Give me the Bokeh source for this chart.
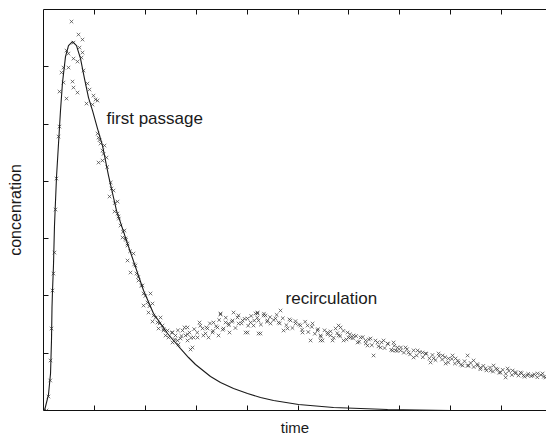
from math import pi
from bokeh.plotting import figure
from bokeh.models import Range1d, LinearAxis, FixedTicker, Label, CustomJSTickFormatter, ColumnDataSource
from bokeh.embed import file_html
from bokeh.resources import INLINE

# fitted first-passage curve (time, concentration)
fit_time = [0.0, 0.020, 0.098, 0.138, 0.157, 0.167, 0.177, 0.196, 0.216, 0.255, 0.295, 0.334,
            0.373, 0.432, 0.491, 0.570, 0.648, 0.727, 0.805, 0.884, 0.963, 1.061, 1.159, 1.277,
            1.434, 1.650, 1.965, 2.161, 2.436, 2.554, 2.692, 2.849, 2.986, 3.084, 3.281, 3.477,
            3.733, 4.008, 4.263, 4.519, 5.010, 5.697, 6.758, 8.0, 9.88]
fit_conc = [0.0, 0.0, 0.279, 0.646, 1.222, 1.798, 2.094, 2.531, 3.229, 4.066, 4.660, 5.236,
            5.724, 6.178, 6.370, 6.440, 6.370, 6.143, 5.794, 5.462, 5.236, 4.921, 4.625, 4.101,
            3.490, 2.914, 2.094, 1.693, 1.344, 1.222, 1.082, 0.925, 0.803, 0.733, 0.593, 0.489,
            0.384, 0.297, 0.227, 0.175, 0.105, 0.052, 0.017, 0.0, 0.0]

# measured samples (time, concentration)
meas_time = [0.059, 0.098, 0.132, 0.138, 0.157, 0.177, 0.196, 0.216, 0.236, 0.255, 0.295, 0.314,
             0.314, 0.354, 0.393, 0.393, 0.452, 0.452, 0.491, 0.491, 0.550, 0.570, 0.589, 0.589,
             0.589, 0.668, 0.668, 0.688, 0.707, 0.747, 0.766, 0.766, 0.786, 0.845, 0.864, 0.904,
             0.963, 0.982, 1.022, 1.061, 1.061, 1.081, 1.081, 1.120, 1.159, 1.159, 1.198, 1.238,
             1.297, 1.336, 1.375, 1.395, 1.454, 1.454, 1.473, 1.513, 1.552, 1.591, 1.611, 1.650,
             1.650, 1.650, 1.768, 1.807, 1.709, 1.827, 1.866, 1.945, 1.965, 2.102, 2.043, 1.965,
             2.141, 2.063, 2.161, 2.299, 2.141, 2.240, 2.338, 2.259, 2.358, 2.436, 2.397, 2.534,
             2.456, 2.593, 2.633, 2.534, 2.692, 2.731, 2.790, 2.652, 2.868, 2.829, 2.888, 2.947,
             3.026, 3.065, 3.124, 3.183, 3.222, 3.242, 3.320, 3.340, 3.418, 3.477, 3.438, 3.536,
             3.576, 3.635, 3.654, 3.733, 3.713, 3.811, 3.831, 3.910, 3.969, 4.008, 4.067, 4.126,
             4.204, 4.224, 4.224, 4.165, 4.322, 4.401, 4.263, 4.460, 4.558, 4.656, 4.617, 4.715,
             4.853, 4.951, 4.794, 5.049, 5.088, 5.187, 5.285, 5.246, 5.383, 5.442, 5.481, 5.580,
             5.639, 5.678, 5.737, 5.796, 5.835, 5.894, 5.972, 6.031, 6.090, 6.169, 6.228, 6.326,
             6.365, 6.424, 6.483, 6.562, 6.621, 6.680, 6.758, 6.857, 6.876, 6.955, 6.916, 7.014,
             7.112, 7.171, 7.269, 7.348, 7.446, 7.505, 7.603, 7.662, 7.760, 7.839, 7.898, 7.957,
             8.035, 8.094, 8.153, 8.232, 8.330, 8.350, 8.448, 8.527, 8.585, 8.684, 8.782, 8.841,
             8.919, 8.978, 9.077, 9.116, 9.214, 9.273, 9.371, 9.430, 9.509, 9.607, 9.705, 9.804,
             9.862, 3.477, 4.204, 4.361, 4.008, 2.829, 2.927, 5.442, 5.796, 5.992,
             1.10, 1.18, 1.25, 1.32, 1.40, 1.48, 1.56, 1.62, 1.70, 1.78, 1.86, 1.92, 2.00, 2.08,
             2.20, 2.28, 2.36]
meas_conc = [0.000, 0.244, 0.524, 0.873, 1.431, 2.094, 2.391, 2.757, 3.508, 4.049, 4.782, 4.956,
             5.567, 5.899, 5.724, 5.986, 5.445, 6.283, 6.230, 5.986, 6.789, 5.742, 6.422, 6.143,
             5.637, 6.091, 5.550, 6.562, 6.335, 6.161, 6.475, 6.248, 5.934, 5.358, 5.707, 5.602,
             5.340, 5.497, 5.428, 5.410, 4.834, 4.764, 4.328, 4.660, 4.538, 4.363, 4.625, 4.415,
             3.735, 3.874, 3.839, 3.473, 3.647, 3.438, 3.386, 3.229, 3.019, 3.141, 3.002, 2.914,
             2.880, 2.618, 2.740, 2.531, 2.408, 2.391, 2.269, 2.182, 2.042, 2.042, 1.885, 1.832,
             1.867, 1.710, 1.658, 1.623, 1.553, 1.536, 1.483, 1.431, 1.396, 1.396, 1.309, 1.361,
             1.274, 1.309, 1.222, 1.187, 1.257, 1.396, 1.309, 1.152, 1.361, 1.222, 1.065, 1.274,
             1.274, 1.536, 1.431, 1.344, 1.431, 1.274, 1.361, 1.536, 1.449, 1.675, 1.309, 1.431,
             1.536, 1.518, 1.361, 1.710, 1.571, 1.623, 1.518, 1.571, 1.361, 1.606, 1.536, 1.483,
             1.710, 1.571, 1.344, 1.693, 1.658, 1.571, 1.344, 1.518, 1.606, 1.745, 1.536, 1.396,
             1.571, 1.518, 1.431, 1.483, 1.361, 1.483, 1.518, 1.222, 1.396, 1.309, 1.222, 1.361,
             1.309, 1.222, 1.431, 1.309, 1.449, 1.222, 1.361, 1.274, 1.309, 1.187, 1.274, 1.222,
             1.134, 1.257, 0.960, 1.187, 1.099, 1.222, 1.169, 1.047, 1.187, 1.099, 1.047, 1.047,
             1.099, 1.012, 0.925, 1.047, 1.012, 0.995, 0.838, 0.908, 0.995, 0.960, 0.820, 0.908,
             0.960, 0.908, 0.838, 0.785, 0.960, 0.785, 0.873, 0.785, 0.750, 0.733, 0.698, 0.785,
             0.716, 0.663, 0.576, 0.733, 0.698, 0.646, 0.663, 0.611, 0.611, 0.611, 0.646, 0.646,
             0.576, 1.693, 1.693, 1.658, 1.361, 1.449, 1.099, 1.222, 1.483, 1.274,
             4.72, 4.48, 4.25, 3.98, 3.62, 3.35, 3.12, 2.98, 2.78, 2.55, 2.33, 2.18, 2.00, 1.82,
             1.62, 1.52, 1.42]

# further measured samples along the recirculation band (time, concentration)
recirc_time = [2.52, 2.58, 2.64, 2.71, 2.77, 2.83, 2.90, 2.96, 3.02, 3.08, 3.14, 3.20, 3.27, 3.33,
               3.39, 3.45, 3.52, 3.58, 3.64, 3.70, 3.77, 3.83, 3.89, 3.95, 4.02, 4.08, 4.14, 4.20,
               4.27, 4.33, 4.39, 4.45, 4.52, 4.58, 4.64, 4.70, 4.77, 4.83, 4.89, 4.95, 5.02, 5.08,
               5.14, 5.20, 5.27, 5.33, 5.39, 5.45, 5.52, 5.58, 5.64, 5.70, 5.77, 5.83, 5.89, 5.95,
               6.02, 6.08, 6.14, 6.20, 6.27, 6.33, 6.39, 6.45, 6.52, 6.58, 6.64, 6.70, 6.77, 6.83,
               6.89, 6.95, 7.02, 7.08, 7.14, 7.20, 7.27, 7.33, 7.39, 7.45, 7.52, 7.58, 7.64, 7.70,
               7.77, 7.83, 7.89, 7.95, 8.02, 8.08, 8.14, 8.20, 8.27, 8.33, 8.39, 8.45, 8.52, 8.58,
               8.64, 8.70, 8.77, 8.83, 8.89, 8.95, 9.02, 9.08, 9.14, 9.20, 9.27, 9.33, 9.39, 9.45,
               9.52, 9.58, 9.64, 9.70, 9.77, 9.83]
recirc_conc = [1.36, 1.24, 1.40, 1.30, 1.45, 1.33, 1.27, 1.42, 1.36, 1.48, 1.31, 1.45, 1.52, 1.39,
               1.47, 1.58, 1.41, 1.62, 1.49, 1.55, 1.44, 1.66, 1.52, 1.60, 1.48, 1.65, 1.57, 1.62,
               1.50, 1.69, 1.55, 1.63, 1.58, 1.67, 1.52, 1.61, 1.49, 1.59, 1.44, 1.56, 1.50, 1.41,
               1.55, 1.37, 1.46, 1.34, 1.42, 1.29, 1.40, 1.33, 1.38, 1.27, 1.35, 1.30, 1.39, 1.24,
               1.33, 1.26, 1.30, 1.20, 1.28, 1.17, 1.24, 1.14, 1.22, 1.12, 1.19, 1.09, 1.16, 1.06,
               1.13, 1.04, 1.10, 1.01, 1.07, 0.98, 1.05, 0.96, 1.02, 0.93, 0.99, 0.91, 0.97, 0.88,
               0.95, 0.89, 0.93, 0.84, 0.90, 0.82, 0.87, 0.80, 0.86, 0.78, 0.83, 0.76, 0.81, 0.72,
               0.78, 0.70, 0.75, 0.68, 0.73, 0.66, 0.71, 0.64, 0.69, 0.62, 0.67, 0.61, 0.65, 0.59,
               0.64, 0.60, 0.63, 0.58, 0.62, 0.59]

x_ticks = [1, 2, 3, 4, 5, 6, 7, 8, 9]
y_ticks = [1, 2, 3, 4, 5, 6]

p = figure(width=546, height=438, output_backend="svg", toolbar_location=None,
           x_range=Range1d(0, 9.88), y_range=Range1d(0, 7),
           x_axis_location=None, y_axis_location=None,
           min_border_left=43, min_border_right=0, min_border_top=9, min_border_bottom=28)
p.outline_line_color = None
p.grid.visible = False
p.background_fill_color = "white"
p.border_fill_color = "white"

font = "Liberation Sans"

def make_axis(ticks, label=None, label_size="15px", label_standoff=10):
    ax = LinearAxis(ticker=FixedTicker(ticks=ticks),
                    formatter=CustomJSTickFormatter(code="return ''"),
                    major_tick_in=5, major_tick_out=0,
                    minor_tick_line_color=None,
                    axis_line_color="#111111", major_tick_line_color="#111111",
                    major_label_standoff=0, major_label_text_font_size="1px")
    if label:
        ax.axis_label = label
        ax.axis_label_text_font = font
        ax.axis_label_text_font_size = label_size
        ax.axis_label_text_font_style = "normal"
        ax.axis_label_text_color = "#1a1a1a"
        ax.axis_label_standoff = label_standoff
    return ax

p.add_layout(make_axis(x_ticks, "time", "15px", 8), "below")
p.add_layout(make_axis(x_ticks), "above")
p.add_layout(make_axis(y_ticks, "concenration", "16px", 20), "left")

p.scatter(meas_time, meas_conc, marker="x", size=5, line_color="#3a3a3a", line_alpha=0.7, line_width=1)
p.scatter(recirc_time, recirc_conc, marker="x", size=5, line_color="#3a3a3a", line_alpha=0.7, line_width=1)
p.line(fit_time, fit_conc, line_color="#1a1a1a", line_width=1.1)

p.add_layout(Label(x=1.238, y=5.096, text="first passage", text_font=font, text_font_size="17px",
                   text_color="#1a1a1a", text_baseline="alphabetic"))
p.add_layout(Label(x=4.754, y=1.955, text="recirculation", text_font=font, text_font_size="17px",
                   text_color="#1a1a1a", text_baseline="alphabetic"))

open("out.html", "w").write(file_html(p, INLINE))
